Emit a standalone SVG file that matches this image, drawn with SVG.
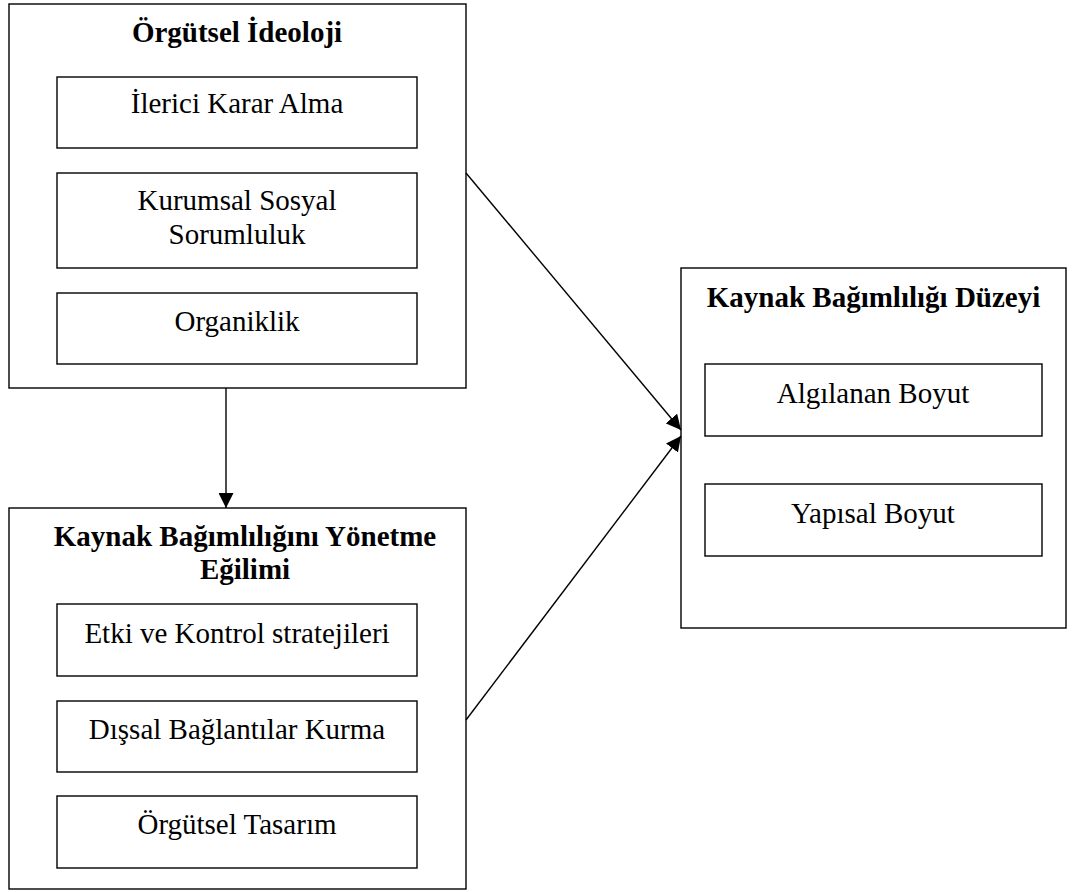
<svg xmlns="http://www.w3.org/2000/svg" width="1073" height="892" viewBox="0 0 1073 892">
<style>
.box{fill:#fff;stroke:#000;stroke-width:1.4}
.t{font-family:"Liberation Serif","Times New Roman",serif;font-size:29px;fill:#000;text-anchor:middle}
.b{font-weight:bold}
.c{fill:none;stroke:#000;stroke-width:1.4}
</style>
<defs>
<marker id="ah" markerUnits="userSpaceOnUse" markerWidth="15" markerHeight="15" refX="15" refY="7.5" orient="auto" viewBox="0 0 15 15">
<path d="M0,0 L15,7.5 L0,15 z" fill="#000"/>
</marker>
</defs>
<rect width="1073" height="892" fill="#fff"/>
<g id="node-ideoloji">
<rect class="box" x="9" y="4" width="457" height="384"/>
<text class="t b" x="237" y="42">Örgütsel İdeoloji</text>
<rect class="box" x="57" y="77" width="360" height="71"/>
<text class="t" x="237" y="113">İlerici Karar Alma</text>
<rect class="box" x="57" y="173" width="360" height="95"/>
<text class="t" x="237" y="210">Kurumsal Sosyal</text>
<text class="t" x="237" y="244">Sorumluluk</text>
<rect class="box" x="57" y="293" width="360" height="71"/>
<text class="t" x="237" y="331">Organiklik</text>
</g>
<g id="node-yonetme">
<rect class="box" x="9" y="508" width="457" height="381"/>
<text class="t b" x="245" y="546">Kaynak Bağımlılığını Yönetme</text>
<text class="t b" x="245" y="579">Eğilimi</text>
<rect class="box" x="57" y="604" width="360" height="72"/>
<text class="t" x="237" y="643">Etki ve Kontrol stratejileri</text>
<rect class="box" x="57" y="701" width="360" height="71"/>
<text class="t" x="237" y="739">Dışsal Bağlantılar Kurma</text>
<rect class="box" x="57" y="796" width="360" height="72"/>
<text class="t" x="237" y="834">Örgütsel Tasarım</text>
</g>
<g id="node-duzey">
<rect class="box" x="681" y="268" width="385" height="360"/>
<text class="t b" x="873.5" y="307">Kaynak Bağımlılığı Düzeyi</text>
<rect class="box" x="705" y="364" width="337" height="72"/>
<text class="t" x="873" y="403">Algılanan Boyut</text>
<rect class="box" x="705" y="484" width="337" height="72"/>
<text class="t" x="873" y="523">Yapısal Boyut</text>
</g>
<g id="connectors">
<line class="c" x1="226" y1="388" x2="226" y2="508" marker-end="url(#ah)"/>
<line class="c" x1="466" y1="173" x2="681" y2="430" marker-end="url(#ah)"/>
<line class="c" x1="466" y1="720" x2="681" y2="436" marker-end="url(#ah)"/>
</g>
</svg>
